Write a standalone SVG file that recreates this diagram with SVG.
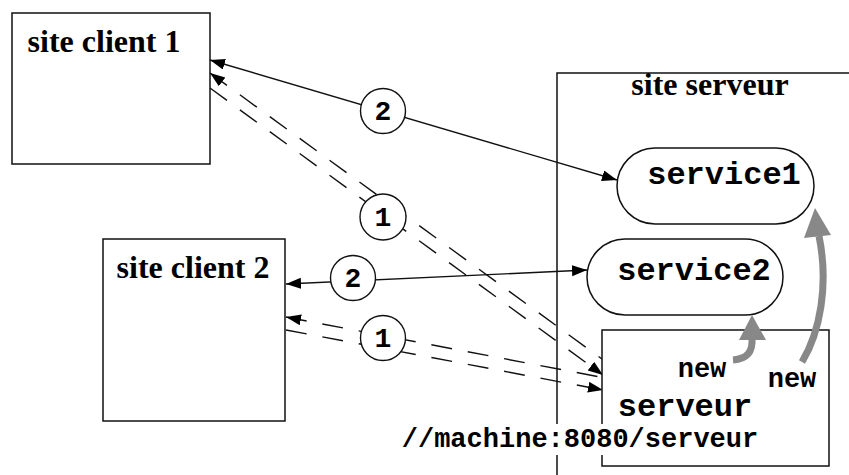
<svg xmlns="http://www.w3.org/2000/svg" width="849" height="475" viewBox="0 0 849 475">
  <style>
    .box { fill: #fff; stroke: #111; stroke-width: 1.5; }
    .frame { fill: none; stroke: #111; stroke-width: 1.5; }
    .ttl { font-family: "Liberation Serif", "Times New Roman", serif; font-weight: bold; font-size: 32px; fill: #000; text-anchor: middle; }
    .mono { font-family: "Liberation Mono", "Courier New", monospace; font-weight: bold; fill: #000; text-anchor: middle; }
    .big { font-size: 32px; }
    .small { font-size: 27px; }
    .num { font-size: 28px; }
    .link { fill: none; stroke: #111; stroke-width: 1.4; }
    .dash { stroke-dasharray: 21 16; }
    .tag { fill: #fff; stroke: #111; stroke-width: 1.4; }
    .gray { fill: none; stroke: #888; stroke-width: 7; }
    .grayhead { fill: #888; }
  </style>
  <defs>
    <marker id="ah" markerUnits="userSpaceOnUse" markerWidth="16" markerHeight="12" refX="15" refY="5.5" orient="auto-start-reverse">
      <path d="M0,0 L15,5.5 L0,11 z" fill="#000"/>
    </marker>
  </defs>

  <g id="site-serveur">
    <rect class="frame" x="557" y="73" width="320" height="440"/>
    <text class="ttl" x="710" y="95">site serveur</text>
  </g>

  <g id="site-client-1">
    <rect class="box" x="12" y="13" width="198" height="151"/>
    <text class="ttl" x="104" y="52">site client 1</text>
  </g>

  <g id="site-client-2">
    <rect class="box" x="103" y="239" width="182" height="182"/>
    <text class="ttl" x="193" y="278">site client 2</text>
  </g>

  <g id="connectors">
    <path class="link" d="M210,60 L617,180" marker-start="url(#ah)" marker-end="url(#ah)"/>
    <path class="link" d="M286,284 L587,270" marker-start="url(#ah)" marker-end="url(#ah)"/>
    <path class="link dash" d="M210,73 L602,359" marker-start="url(#ah)"/>
    <path class="link dash" d="M210,88 L603,375" marker-end="url(#ah)"/>
    <path class="link dash" d="M286,317 L600,377" marker-start="url(#ah)"/>
    <path class="link dash" d="M286,330 L603,390" marker-end="url(#ah)"/>
    <g id="label-2a"><circle class="tag" cx="383" cy="111" r="22.5"/><text class="mono num" x="383" y="120">2</text></g>
    <g id="label-1a"><circle class="tag" cx="383" cy="217" r="23"/><text class="mono num" x="383" y="226">1</text></g>
    <g id="label-2b"><circle class="tag" cx="353" cy="278" r="22.5"/><text class="mono num" x="353" y="287">2</text></g>
    <g id="label-1b"><circle class="tag" cx="383" cy="338" r="22.5"/><text class="mono num" x="383" y="347">1</text></g>
  </g>

  <g id="service1">
    <rect class="box" x="617" y="148" width="197" height="76" rx="38" ry="38"/>
    <text class="mono big" x="724" y="184">service1</text>
  </g>

  <g id="service2">
    <rect class="box" x="587" y="239" width="196" height="76" rx="38" ry="38"/>
    <text class="mono big" x="694" y="280">service2</text>
  </g>

  <g id="serveur">
    <rect class="box" x="602" y="330" width="227" height="136"/>
    <text class="mono small" x="702" y="377">new</text>
    <text class="mono small" x="792" y="387">new</text>
    <text class="mono big" x="685" y="416">serveur</text>
  </g>

  <g id="new-arrows">
    <path class="gray" d="M733,360 C747,359 753,352 752,338"/>
    <polygon class="grayhead" points="752,315 739,340 766,340"/>
    <path class="gray" d="M802,362 C820,332 829,285 819,236"/>
    <polygon class="grayhead" points="815,208 804,238 831,235"/>
  </g>

  <g id="url-label">
    <rect x="404" y="424" width="354" height="31" fill="#fff"/>
    <text class="mono small" x="580" y="447">//machine:8080/serveur</text>
  </g>
</svg>
